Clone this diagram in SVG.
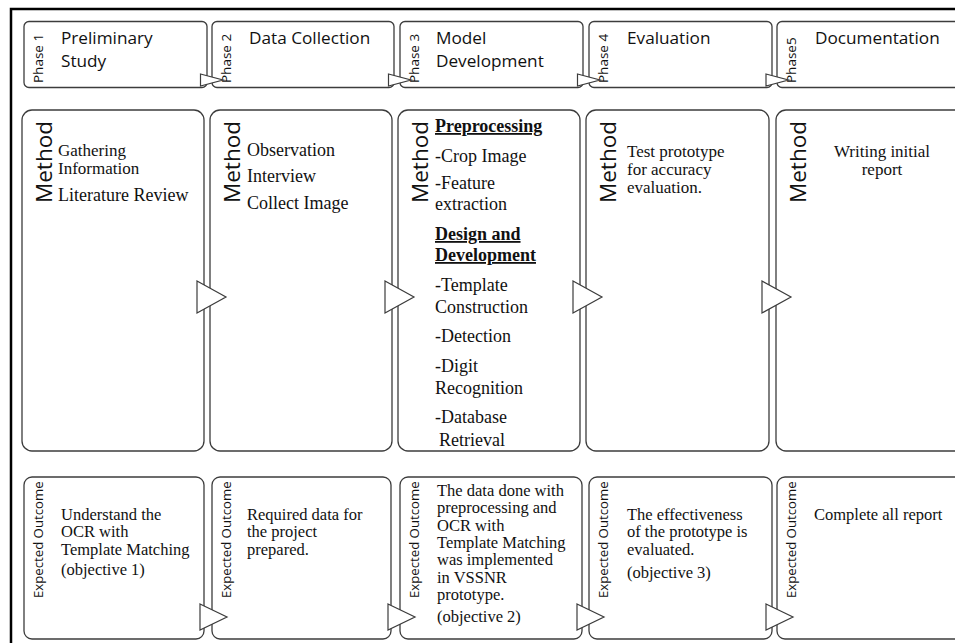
<svg xmlns="http://www.w3.org/2000/svg" width="955" height="643" viewBox="0 0 955 643">
<style>
.bg{fill:#fff}
.frame{fill:none;stroke:#000;stroke-width:2.5}
.box{fill:#fff;stroke:#3c3c3c;stroke-width:1.3}
.arr{fill:#fff;stroke:#3c3c3c;stroke-width:1.2;stroke-linejoin:miter}
.ttl{font-family:"Open Sans","Noto Sans",sans-serif;font-size:17.2px;fill:#111}
.ph{font-family:"Open Sans","Noto Sans",sans-serif;font-size:13.5px;fill:#111}
.mt{font-family:"Open Sans","Noto Sans",sans-serif;font-size:22.5px;fill:#111}
.eo{font-family:"Open Sans","Noto Sans",sans-serif;font-size:13.2px;fill:#111}
.sm{font-family:"Liberation Serif","Times New Roman",serif;font-size:18px;fill:#111}
.st{font-family:"Liberation Serif","Times New Roman",serif;font-size:17px;fill:#111}
.so{font-family:"Liberation Serif","Times New Roman",serif;font-size:16.5px;fill:#111}
.hd{font-weight:bold;text-decoration:underline}
</style>
<rect class="bg" x="0" y="0" width="955" height="643"/>
<rect class="frame" x="11" y="9" width="1000" height="700"/>

<!-- Phase row -->
<g id="phase1"><rect class="box" x="24" y="21.5" width="183" height="66" rx="5"/>
<text class="ph" transform="translate(43,83) rotate(-90)">Phase 1</text>
<text class="ttl" x="61" y="44">Preliminary</text><text class="ttl" x="61" y="67">Study</text></g>
<g id="phase2"><rect class="box" x="212" y="21.5" width="182" height="66" rx="5"/>
<text class="ph" transform="translate(231,83) rotate(-90)">Phase 2</text>
<text class="ttl" x="249" y="44">Data Collection</text></g>
<g id="phase3"><rect class="box" x="400" y="21.5" width="183" height="66" rx="5"/>
<text class="ph" transform="translate(419,83) rotate(-90)">Phase 3</text>
<text class="ttl" x="436" y="44">Model</text><text class="ttl" x="436" y="67">Development</text></g>
<g id="phase4"><rect class="box" x="589" y="21.5" width="183" height="66" rx="5"/>
<text class="ph" transform="translate(608,83) rotate(-90)">Phase 4</text>
<text class="ttl" x="627" y="44">Evaluation</text></g>
<g id="phase5"><rect class="box" x="777" y="21.5" width="190" height="66" rx="5"/>
<text class="ph" transform="translate(796,83) rotate(-90)">Phase5</text>
<text class="ttl" x="815" y="44">Documentation</text></g>

<!-- Method row -->
<g id="method1"><rect class="box" x="22" y="110" width="182" height="341" rx="10"/>
<text class="mt" transform="translate(52,203) rotate(-90)">Method</text>
<text class="st" x="58" y="156">Gathering</text>
<text class="st" x="58" y="174">Information</text>
<text class="sm" x="58" y="201">Literature Review</text></g>
<g id="method2"><rect class="box" x="210" y="110" width="182" height="341" rx="10"/>
<text class="mt" transform="translate(240,203) rotate(-90)">Method</text>
<text class="sm" x="247" y="156">Observation</text>
<text class="sm" x="247" y="182">Interview</text>
<text class="sm" x="247" y="209">Collect Image</text></g>
<g id="method3"><rect class="box" x="398" y="110" width="182" height="341" rx="10"/>
<text class="mt" transform="translate(428,203) rotate(-90)">Method</text>
<text class="sm hd" x="435" y="132">Preprocessing</text>
<text class="sm" x="435" y="162">-Crop Image</text>
<text class="sm" x="435" y="189">-Feature</text>
<text class="sm" x="435" y="210">extraction</text>
<text class="sm hd" x="435" y="240">Design and</text>
<text class="sm hd" x="435" y="261">Development</text>
<text class="sm" x="435" y="291">-Template</text>
<text class="sm" x="435" y="313">Construction</text>
<text class="sm" x="435" y="342">-Detection</text>
<text class="sm" x="435" y="372">-Digit</text>
<text class="sm" x="435" y="394">Recognition</text>
<text class="sm" x="435" y="423">-Database</text>
<text class="sm" x="439" y="446">Retrieval</text></g>
<g id="method4"><rect class="box" x="586" y="110" width="183" height="341" rx="10"/>
<text class="mt" transform="translate(616,203) rotate(-90)">Method</text>
<text class="st" x="627" y="157">Test prototype</text>
<text class="st" x="627" y="175">for accuracy</text>
<text class="st" x="627" y="193">evaluation.</text></g>
<g id="method5"><rect class="box" x="776" y="110" width="190" height="341" rx="10"/>
<text class="mt" transform="translate(806,203) rotate(-90)">Method</text>
<text class="st" x="882" y="157" text-anchor="middle">Writing initial</text>
<text class="st" x="882" y="175" text-anchor="middle">report</text></g>

<!-- Outcome row -->
<g id="outcome1"><rect class="box" x="24" y="477" width="180" height="162" rx="8"/>
<text class="eo" transform="translate(43,598) rotate(-90)">Expected Outcome</text>
<text class="so" x="61" y="520">Understand the</text>
<text class="so" x="61" y="537.3">OCR with</text>
<text class="so" x="61" y="554.6">Template Matching</text>
<text class="so" x="61" y="575">(objective 1)</text></g>
<g id="outcome2"><rect class="box" x="212" y="477" width="179" height="162" rx="8"/>
<text class="eo" transform="translate(231,598) rotate(-90)">Expected Outcome</text>
<text class="so" x="247" y="520">Required data for</text>
<text class="so" x="247" y="537.3">the project</text>
<text class="so" x="247" y="554.6">prepared.</text></g>
<g id="outcome3"><rect class="box" x="400" y="477" width="182" height="162" rx="8"/>
<text class="eo" transform="translate(419,598) rotate(-90)">Expected Outcome</text>
<text class="so" x="437" y="496">The data done with</text>
<text class="so" x="437" y="513.3">preprocessing and</text>
<text class="so" x="437" y="530.6">OCR with</text>
<text class="so" x="437" y="547.9">Template Matching</text>
<text class="so" x="437" y="565.2">was implemented</text>
<text class="so" x="437" y="582.5">in VSSNR</text>
<text class="so" x="437" y="599.8">prototype.</text>
<text class="so" x="437" y="622">(objective 2)</text></g>
<g id="outcome4"><rect class="box" x="589" y="477" width="183" height="162" rx="8"/>
<text class="eo" transform="translate(608,598) rotate(-90)">Expected Outcome</text>
<text class="so" x="627" y="520">The effectiveness</text>
<text class="so" x="627" y="537.3">of the prototype is</text>
<text class="so" x="627" y="554.6">evaluated.</text>
<text class="so" x="627" y="578">(objective 3)</text></g>
<g id="outcome5"><rect class="box" x="777" y="477" width="190" height="162" rx="8"/>
<text class="eo" transform="translate(796,598) rotate(-90)">Expected Outcome</text>
<text class="so" x="814" y="520">Complete all report</text></g>

<!-- Connectors -->
<g id="connectors">
<polygon class="arr" points="200.5,74 223,80 200.5,86"/>
<polygon class="arr" points="388.5,74 411,80 388.5,86"/>
<polygon class="arr" points="577.5,74 600,80 577.5,86"/>
<polygon class="arr" points="766,74 788.5,80 766,86"/>
<polygon class="arr" points="197,281 226,297 197,313"/>
<polygon class="arr" points="385,281 414,297 385,313"/>
<polygon class="arr" points="573,281 602,297 573,313"/>
<polygon class="arr" points="762,281 791,297 762,313"/>
<polygon class="arr" points="200,604 227,617 200,630"/>
<polygon class="arr" points="388,604 415,617 388,630"/>
<polygon class="arr" points="577,604 604,617 577,630"/>
<polygon class="arr" points="766,604 793,617 766,630"/>
</g>
</svg>
